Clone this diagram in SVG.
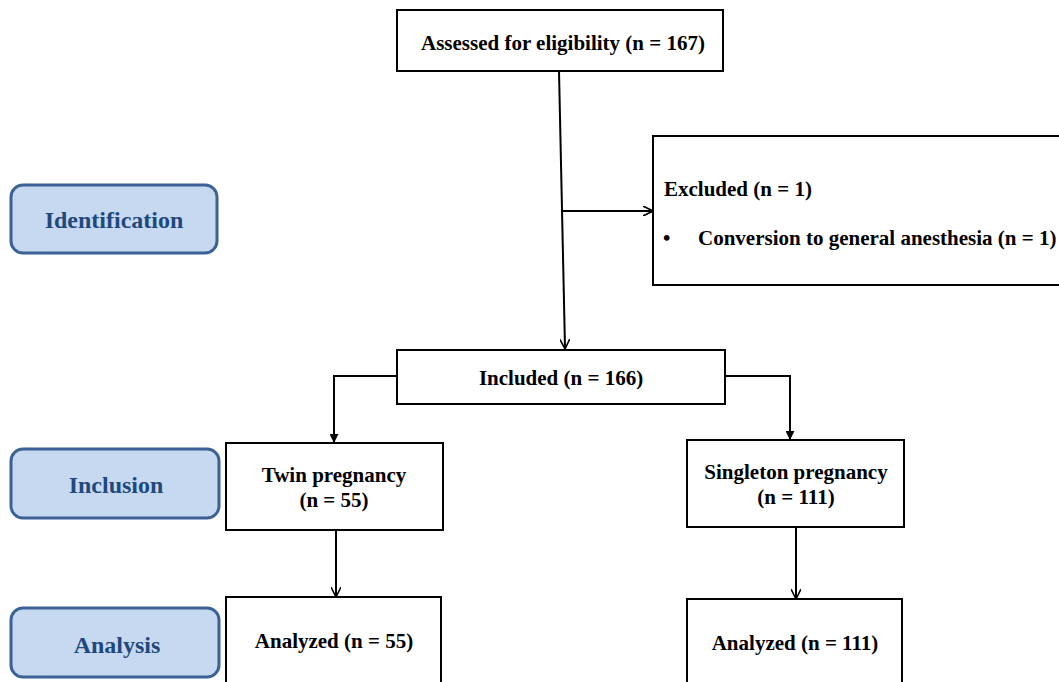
<svg xmlns="http://www.w3.org/2000/svg" width="1059" height="682" viewBox="0 0 1059 682">
<defs>
<marker id="ah" viewBox="0 0 10 10" refX="9" refY="5" markerWidth="10" markerHeight="10" markerUnits="userSpaceOnUse" orient="auto">
<path d="M0,0 L10,5 L0,10" fill="none" stroke="#000" stroke-width="1.6"/>
</marker>
<marker id="ahf" viewBox="0 0 10 10" refX="9" refY="5" markerWidth="9" markerHeight="9" markerUnits="userSpaceOnUse" orient="auto">
<path d="M0,0 L10,5 L0,10 Z" fill="#000"/>
</marker>
</defs>
<style>
.box{fill:#fff;stroke:#000;stroke-width:2}
.stage{fill:#c6d9f1;stroke:#3b6195;stroke-width:3}
.t{font-family:"Liberation Serif","Times New Roman",serif;font-weight:bold;font-size:21px;fill:#000}
.s{font-family:"Liberation Serif","Times New Roman",serif;font-weight:bold;font-size:24px;fill:#1f497d;text-anchor:middle}
.c{text-anchor:middle}
.ln{fill:none;stroke:#000;stroke-width:2}
</style>
<rect width="1059" height="682" fill="#fff"/>
<g id="stage-identification"><rect class="stage" x="11" y="185" width="206" height="68" rx="12"/><text class="s" x="114" y="228">Identification</text></g>
<g id="stage-inclusion"><rect class="stage" x="11" y="449" width="208" height="69" rx="12"/><text class="s" x="116" y="493">Inclusion</text></g>
<g id="stage-analysis"><rect class="stage" x="11" y="608" width="208" height="69" rx="12"/><text class="s" x="117" y="653">Analysis</text></g>
<g id="assessed"><rect class="box" x="397" y="10" width="326" height="61"/><text class="t c" x="563" y="50">Assessed for eligibility (n = 167)</text></g>
<g id="excluded"><rect class="box" x="653" y="136" width="420" height="149"/><text class="t" x="664" y="196">Excluded (n = 1)</text><text class="t" x="663" y="245">•</text><text class="t" x="698" y="245">Conversion to general anesthesia (n = 1)</text></g>
<g id="included"><rect class="box" x="397" y="350" width="328" height="54"/><text class="t c" x="561" y="385">Included (n = 166)</text></g>
<g id="twin"><rect class="box" x="226" y="443" width="217" height="87"/><text class="t c" x="334" y="482">Twin pregnancy</text><text class="t c" x="334" y="507">(n = 55)</text></g>
<g id="singleton"><rect class="box" x="687" y="440" width="217" height="87"/><text class="t c" x="796" y="479">Singleton pregnancy</text><text class="t c" x="796" y="504">(n = 111)</text></g>
<g id="analyzed-twin"><rect class="box" x="226" y="597" width="215" height="100"/><text class="t c" x="334" y="648">Analyzed (n = 55)</text></g>
<g id="analyzed-singleton"><rect class="box" x="687" y="599" width="215" height="100"/><text class="t c" x="795" y="650">Analyzed (n = 111)</text></g>
<g id="connectors">
<path class="ln" d="M559,71 L565,348" marker-end="url(#ah)"/>
<path class="ln" d="M563,211 L652,211" marker-end="url(#ah)"/>
<path class="ln" d="M397,376 L334,376 L334,442" marker-end="url(#ahf)"/>
<path class="ln" d="M725,376 L790,376 L790,439" marker-end="url(#ahf)"/>
<path class="ln" d="M336,530 L336,596" marker-end="url(#ah)"/>
<path class="ln" d="M796,527 L796,598" marker-end="url(#ah)"/>
</g>
</svg>
